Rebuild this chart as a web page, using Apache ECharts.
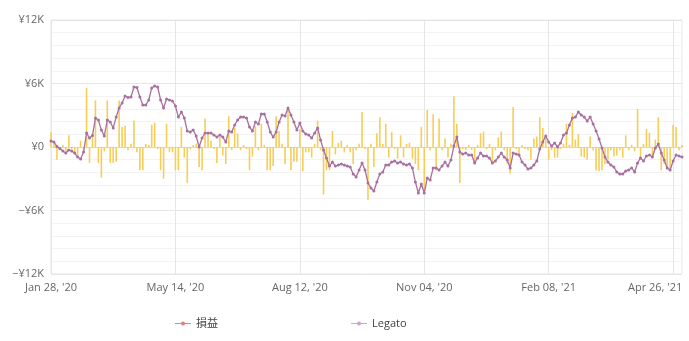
<!DOCTYPE html>
<html>
<head>
<meta charset="utf-8">
<script src="https://cdn.jsdelivr.net/npm/echarts@6/dist/echarts.min.js"></script>
<style>
  html, body { margin: 0; padding: 0; background: #fff; }
  #chart { width: 689px; height: 341px; }
</style>
</head>
<body>
<div id="chart"></div>
<script>
// Labelled dates on the time axis (every 42nd trading session) and the last few sessions after them
const tickDates = ['2020-01-28', '2020-05-14', '2020-08-12', '2020-11-04', '2021-02-08', '2021-04-26'];
const tailDates = ['2021-04-27', '2021-04-28', '2021-04-30'];
const stepsPerTick = 42;

// Daily profit / loss (¥)
const pnl = [
  1400, 300, -1200, -300, 200, -400, 1100, -200, -600, -800,
  600, -300, 5600, -1500, 1200, 4400, -1500, -2900, -400, 4400,
  -1500, -1500, -1400, 4400, 1900, 2000, -300, 300, 2500, -500,
  -2200, -2200, 300, 200, 2100, 2300, -200, -2200, -3000, 2200,
  -500, -500, -2200, -2200, 1900, -1000, -3400, -200, 200, 300,
  -1900, -2200, 2700, 1300, 600, -200, -1500, 1000, -800, -1600,
  2900, -300, 1800, 1300, -300, 200, -200, -2200, -900, 2000,
  -300, 2200, 200, -2200, -2200, -1800, 2900, 1500, 300, -1600,
  3800, -2200, -1400, -1400, 1700, -2300, -500, -500, -1000, 300,
  2500, -300, -4500, -2200, -2200, 1500, -700, 400, 600, -500,
  200, -500, -1600, -300, 300, 3300, -200, -5000, 300, -1900,
  1300, 2800, 300, 2200, -1000, 1400, -200, -1100, 1100, -1000,
  300, 400, -1100, -1600, -2200, 1900, -4400, 3500, -300, 3100,
  -2200, 2700, -300, 800, -1000, 300, 4800, 2200, -3400, -200,
  -300, 200, -300, -1500, 200, 1300, 1450, -200, 300, -1500,
  -300, 900, 1450, -300, -1600, -2500, 3800, -200, -900, 200,
  -200, -300, -1200, 800, 1000, 2800, 1800, 900, -1200, -300,
  -1000, -1000, -200, 300, 2200, 200, 3200, 700, 1200, -900,
  -1000, -1200, 1000, -300, -2200, -2300, -2200, -1600, -1200, -300,
  -900, -800, -300, -1000, 1100, -300, 200, -400, 3600, -1200,
  300, 1700, 1350, -1000, 700, 2800, -2200, -1600, -2000, -2200,
  2100, 1900, -300, 200
];

// Legato (¥)
const legato = [
  570, 470, 50, -140, -380, -570, -280, -380, -570, -950,
  -1130, -470, 1320, 850, 1090, 2740, 2550, 1600, 1040, 2550,
  2360, 1800, 2830, 3690, 4160, 4820, 4680, 4730, 5670, 5620,
  4730, 3970, 3970, 4440, 5580, 5760, 5670, 4440, 3690, 4540,
  4440, 4350, 3870, 2830, 3310, 2740, 1510, 1420, 1600, 1040,
  0, 850, 1320, 1320, 1320, 1130, 940, 1130, 940, 470,
  1510, 1420, 2080, 2550, 2830, 2830, 2740, 1890, 1510, 2360,
  2170, 3120, 3120, 2360, 1420, 940, 1420, 2360, 3020, 2930,
  3690, 3020, 2360, 1600, 2270, 1510, 1230, 1130, 850, 1320,
  1800, 660, -280, -1040, -1800, -1420, -1800, -1700, -1610, -1700,
  -1800, -1890, -2550, -2830, -2170, -1510, -2170, -3400, -3870, -4160,
  -3310, -2550, -2360, -1700, -1700, -1420, -1320, -1510, -1420, -1610,
  -1700, -1610, -1980, -3310, -4350, -3500, -4350, -2930, -3120, -1980,
  -1980, -2170, -1800, -1420, -1800, -1230, 90, 940, -470, -660,
  -570, -760, -760, -1510, -1040, -570, -850, -850, -1040, -1510,
  -1320, -950, -570, -950, -1230, -1980, -570, -660, -760, -1420,
  -1700, -2080, -1980, -1700, -1320, -190, 470, 1040, 470, 90,
  380, 0, 380, 1130, 1320, 2080, 2740, 2830, 3310, 3020,
  2830, 2460, 2830, 2170, 1510, 760, -90, -950, -1420, -1700,
  -1890, -2360, -2550, -2550, -2270, -2170, -1980, -2360, -1510, -1040,
  -1320, -850, -760, -950, -90, 280, -570, -1230, -1980, -2170,
  -1320, -760, -850, -950
];

// Trading-session dates: sessions spread between the labelled dates, then the tail
function buildSessions() {
  const day = 86400000;
  const out = [];
  for (let k = 0; k < tickDates.length - 1; k++) {
    const a = Date.parse(tickDates[k] + 'T00:00:00Z');
    const b = Date.parse(tickDates[k + 1] + 'T00:00:00Z');
    const span = Math.round((b - a) / day);
    for (let s = 0; s < stepsPerTick; s++) {
      const d = new Date(a + Math.round(s * span / stepsPerTick) * day);
      out.push(d.toISOString().slice(0, 10));
    }
  }
  out.push(tickDates[tickDates.length - 1]);
  return out.concat(tailDates);
}
const sessions = buildSessions();

const MONTHS = ['Jan', 'Feb', 'Mar', 'Apr', 'May', 'Jun', 'Jul', 'Aug', 'Sep', 'Oct', 'Nov', 'Dec'];
function fmtDate(iso) {
  const [y, m, d] = iso.split('-');
  return MONTHS[+m - 1] + ' ' + d + ", '" + y.slice(2);
}
function fmtYen(v) {
  if (v === 0) return '¥0';
  return (v < 0 ? '−' : '') + '¥' + Math.abs(v) / 1000 + 'K';
}

// Legend glyph: short line with a dot in the middle
const lineDotIcon = 'path://M0,3.5H6.06A2,2 0 0,1 9.94,3.5H16V4.5H9.94A2,2 0 0,1 6.06,4.5H0Z';

const chart = echarts.init(document.getElementById('chart'), null, { renderer: 'canvas' });
const lastTick = tickDates[tickDates.length - 1];

chart.setOption({
  animation: false,
  textStyle: { fontFamily: '"Open Sans", "Noto Sans CJK JP", sans-serif' },
  grid: {
    left: 51, right: 7, top: 20, bottom: 67,
    show: true, borderColor: '#e9e9e9', borderWidth: 1
  },
  legend: {
    left: 170, top: 313,
    itemGap: 133,
    itemWidth: 16, itemHeight: 5,
    textStyle: { color: '#444', fontSize: 11 },
    data: [
      { name: '損益', icon: lineDotIcon, itemStyle: { color: '#e0837c' } },
      { name: 'Legato', icon: lineDotIcon, itemStyle: { color: '#c9a7c5' } }
    ]
  },
  xAxis: {
    type: 'category',
    data: sessions,
    boundaryGap: false,
    axisLine: { lineStyle: { color: '#ccd6eb' } },
    axisTick: { show: false },
    axisLabel: {
      interval: stepsPerTick - 1,
      color: '#666',
      fontSize: 11,
      margin: 8,
      formatter: function (v) {
        return v === lastTick ? '{last|' + fmtDate(v) + '}' : fmtDate(v);
      },
      rich: { last: { color: '#666', fontSize: 11, padding: [0, 36, 0, 0] } }
    },
    splitLine: { show: true, interval: stepsPerTick - 1, lineStyle: { color: '#e6e6e6' } }
  },
  yAxis: {
    type: 'value',
    min: -12000, max: 12000, interval: 6000,
    axisLine: { show: false },
    axisTick: { show: false },
    axisLabel: { color: '#666', fontSize: 11, margin: 7, formatter: fmtYen },
    splitLine: { lineStyle: { color: '#e6e6e6' } },
    minorTick: { show: false, splitNumber: 5 },
    minorSplitLine: { show: true, lineStyle: { color: '#f3f3f3' } }
  },
  series: [
    {
      name: '損益',
      type: 'bar',
      data: pnl,
      barWidth: 1.6,
      itemStyle: { color: '#f7cd55' },
      z: 2
    },
    {
      name: 'Legato',
      type: 'line',
      data: legato,
      symbol: 'circle',
      symbolSize: 3,
      showAllSymbol: true,
      itemStyle: { color: '#a8709f' },
      lineStyle: { color: '#a8709f', width: 1.3 },
      z: 3
    }
  ]
});
</script>
</body>
</html>
